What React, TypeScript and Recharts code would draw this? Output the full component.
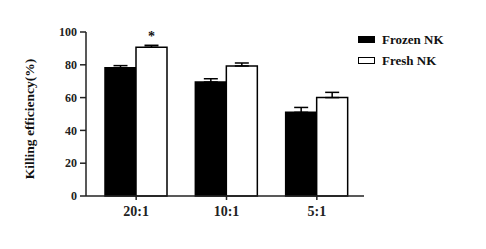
import React from "react";
import { BarChart, Bar, XAxis, YAxis, ErrorBar, LabelList, Label } from "recharts";

const categories = ["20:1", "10:1", "5:1"];
const frozenNK = [78.2, 69.5, 51];
const frozenErr = [1.3, 2, 3];
const freshNK = [90.7, 79.3, 60];
const freshErr = [1.2, 1.8, 3.2];
const significance = ["*", "", ""];
const yTicks = [0, 20, 40, 60, 80, 100];

const data = categories.map((name, i) => ({
  name,
  frozen: frozenNK[i],
  frozenErr: [0, frozenErr[i]],
  fresh: freshNK[i],
  freshErr: [0, freshErr[i]],
  sig: significance[i],
}));

const font = "'Liberation Serif', 'Times New Roman', serif";

function LegendBox() {
  const items = [
    { label: "Frozen NK", fill: "#000" },
    { label: "Fresh NK", fill: "#fff" },
  ];
  return (
    <div
      style={{
        position: "absolute",
        left: 358,
        top: 29,
        fontFamily: font,
        fontWeight: "bold",
        fontSize: 13,
        color: "#111",
      }}
    >
      {items.map((it) => (
        <div key={it.label} style={{ display: "flex", alignItems: "center", height: 21 }}>
          <span
            style={{
              display: "inline-block",
              width: 15,
              height: 5,
              background: it.fill,
              border: "1px solid #000",
              marginRight: 7,
            }}
          />
          {it.label}
        </div>
      ))}
    </div>
  );
}

// rotated y-axis title, centred on the axis' own viewBox
const YTitle = (props: any) => {
  const vb = props.viewBox || {};
  const cx = (vb.x || 0) + 29;
  const cy = (vb.y || 0) + (vb.height || 0) / 2 + 5;
  return (
    <text
      x={cx}
      y={cy}
      transform={`rotate(-90, ${cx}, ${cy})`}
      textAnchor="middle"
      dominantBaseline="central"
      fontSize={13.5}
      fill="#111"
    >
      Killing efficiency(%)
    </text>
  );
};

export default function App() {
  return (
    <div style={{ position: "absolute", left: 0, top: 0, width: 486, height: 249, background: "#fff", fontFamily: font }}>
      <style>{`.recharts-wrapper text { font-family: ${font}; font-weight: bold; }`}</style>
      <BarChart
        width={486}
        height={249}
        data={data}
        margin={{ top: 32, right: 122, left: 0, bottom: 23 }}
        barGap={0}
        barSize={31}
      >
        <XAxis
          dataKey="name"
          padding={{ left: 5, right: 2 }}
          stroke="#222"
          strokeWidth={1.5}
          tickSize={4}
          tickMargin={6}
          tick={{ fill: "#222", fontSize: 14 }}
          height={30}
        />
        <YAxis
          domain={[0, 100]}
          ticks={yTicks}
          width={86}
          stroke="#222"
          strokeWidth={1.5}
          tickSize={6}
          tickMargin={3}
          tick={{ fill: "#222", fontSize: 12 }}
        >
          <Label content={YTitle} />
        </YAxis>
        <Bar dataKey="frozen" fill="#000" stroke="#000" strokeWidth={1.5} isAnimationActive={false}>
          <ErrorBar dataKey="frozenErr" width={7} stroke="#000" strokeWidth={1.5} isAnimationActive={false} />
        </Bar>
        <Bar dataKey="fresh" fill="#fff" stroke="#000" strokeWidth={1.5} isAnimationActive={false}>
          <ErrorBar dataKey="freshErr" width={7} stroke="#000" strokeWidth={1.5} isAnimationActive={false} />
          <LabelList dataKey="sig" position="top" offset={6} fontSize={14} fill="#111" />
        </Bar>
      </BarChart>
      <LegendBox />
    </div>
  );
}
